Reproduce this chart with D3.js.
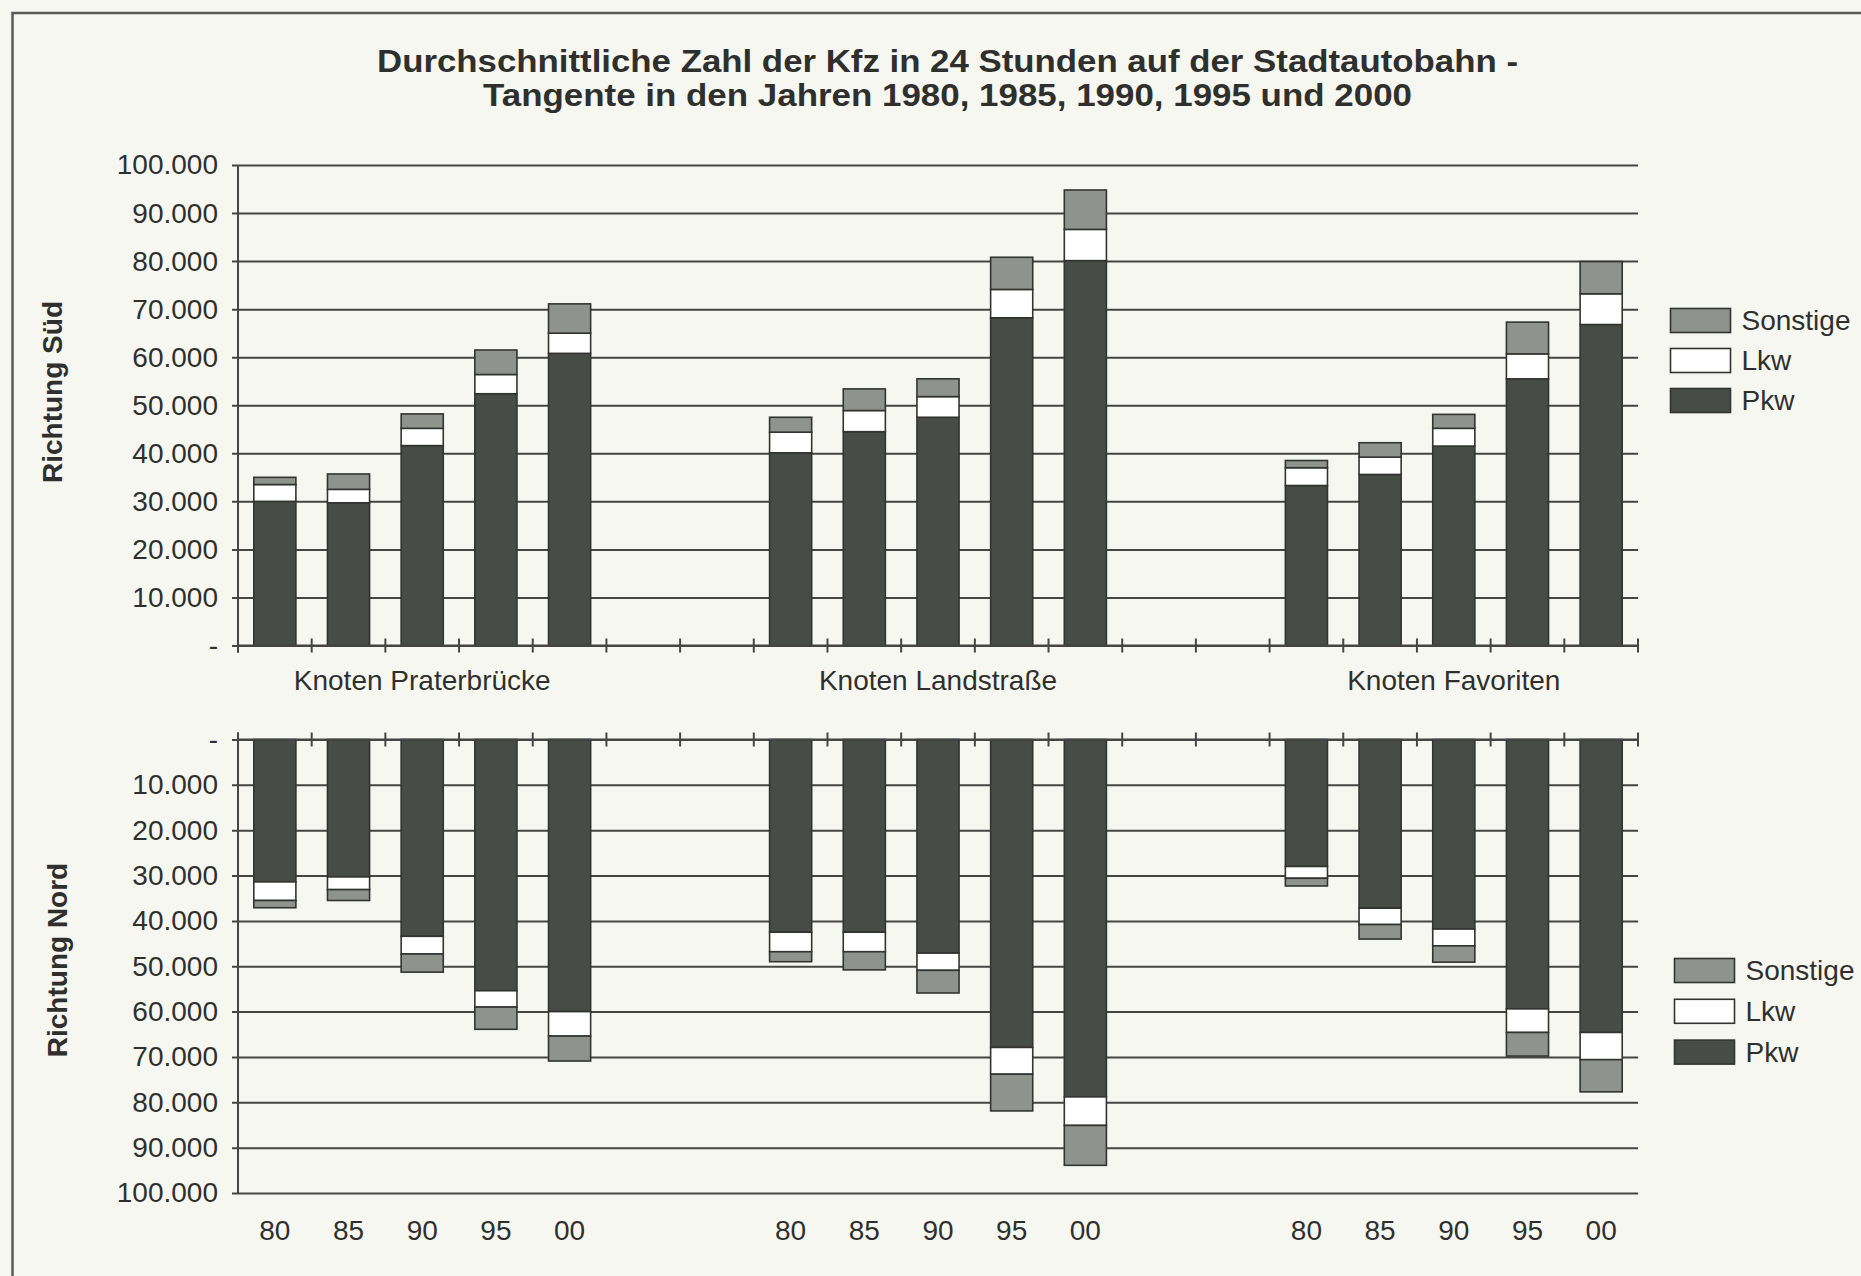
<!DOCTYPE html>
<html>
<head>
<meta charset="utf-8">
<title>Kfz Stadtautobahn Tangente</title>
<style>
  body { margin: 0; background: #f7f7f2; }
  svg text { font-family: "Liberation Sans", Arial, sans-serif; fill: #2f302e; }
</style>
</head>
<body>
<div id="chart"></div>
<script src="https://d3js.org/d3.v7.min.js"></script>
<script>
// Daten (Kfz pro 24 h), Reihenfolge je Knoten: 80, 85, 90, 95, 00
var jahre = ["80", "85", "90", "95", "00"];
var knoten = ["Knoten Praterbrücke", "Knoten Landstraße", "Knoten Favoriten"];
var serien = ["Pkw", "Lkw", "Sonstige"];
var yTicks = [0, 10000, 20000, 30000, 40000, 50000, 60000, 70000, 80000, 90000, 100000];

// Richtung Süd
var sued_pkw   = [30000, 29700, 41600, 52400, 60800,  40100, 44500, 47500, 68200, 80100,  33300, 35600, 41500, 55500, 66800];
var sued_lkw   = [ 3500,  2800,  3600,  4000,  4200,   4300,  4400,  4300,  5900,  6500,   3700,  3600,  3700,  5200,  6400];
var sued_sonst = [ 1500,  3200,  3000,  5100,  6100,   3100,  4500,  3700,  6700,  8200,   1500,  3000,  2900,  6600,  6700];

// Richtung Nord
var nord_pkw   = [31400, 30300, 43400, 55400, 60000,  42500, 42500, 47100, 67900, 78800,  28000, 37200, 41800, 59400, 64600];
var nord_lkw   = [ 4100,  2800,  3900,  3600,  5400,   4300,  4300,  3800,  5900,  6300,   2600,  3600,  3700,  5200,  6000];
var nord_sonst = [ 1600,  2400,  4000,  4900,  5500,   2200,  4000,  5000,  8100,  8800,   1700,  3200,  3600,  5200,  7100];

var farben = { "Pkw": "#474c47", "Lkw": "#ffffff", "Sonstige": "#8f928d" };

var W = 1861, H = 1276;
var svg = d3.select("#chart").append("svg")
  .attr("width", W).attr("height", H);

svg.append("rect").attr("width", W).attr("height", H).attr("fill", "#f7f7f2");

// Rahmen (nur oben und links sichtbar)
svg.append("path")
  .attr("d", "M12.5," + (H + 5) + "V13H" + (W + 5))
  .attr("fill", "none").attr("stroke", "#5a5a58").attr("stroke-width", 2.5);

// Titel
var titel = svg.append("text")
  .attr("text-anchor", "middle")
  .attr("font-weight", "bold")
  .attr("font-size", 31);
titel.append("tspan").attr("x", 947.5).attr("y", 72)
  .attr("textLength", 1141).attr("lengthAdjust", "spacingAndGlyphs")
  .text("Durchschnittliche Zahl der Kfz in 24 Stunden auf der Stadtautobahn -");
titel.append("tspan").attr("x", 947.5).attr("y", 105.5)
  .attr("textLength", 929).attr("lengthAdjust", "spacingAndGlyphs")
  .text("Tangente in den Jahren 1980, 1985, 1990, 1995 und 2000");

// Kategorien: 5 Jahre je Knoten, dazwischen 2 leere Plätze
var slots = [];
knoten.forEach(function (k, ki) {
  jahre.forEach(function (j) { slots.push(k + "|" + j); });
  if (ki < knoten.length - 1) { slots.push("leer" + ki + "a"); slots.push("leer" + ki + "b"); }
});

var xLeft = 238, xRight = 1638;
var x = d3.scaleBand().domain(slots).range([xLeft, xRight]).padding(0);
var barW = x.bandwidth() / 1.75;

var deFormat = d3.formatLocale({ decimal: ",", thousands: ".", grouping: [3], currency: ["", " €"] }).format(",.0f");
function fmt(d) { return d === 0 ? "-" : deFormat(d); }

function baueZeilen(pkw, lkw, sonst) {
  var rows = [];
  var i = 0;
  knoten.forEach(function (k) {
    jahre.forEach(function (j) {
      rows.push({ slot: k + "|" + j, Pkw: pkw[i], Lkw: lkw[i], Sonstige: sonst[i] });
      i++;
    });
  });
  return rows;
}

var stack = d3.stack().keys(serien);

function panel(y, rows, oben) {
  var g = svg.append("g");
  var y0 = y(0);

  // Gitterlinien + Beschriftung
  var achse = d3.axisLeft(y).tickValues(yTicks).tickFormat(fmt)
    .tickSizeInner(-(xRight - xLeft)).tickSizeOuter(0).tickPadding(20);
  var ga = g.append("g").attr("transform", "translate(" + xLeft + ",0)").call(achse);
  ga.select(".domain").remove();
  ga.selectAll(".tick line")
    .attr("x1", -6)
    .attr("stroke", "#454644").attr("stroke-width", 2);
  ga.selectAll(".tick text")
    .attr("font-size", 28).attr("fill", "#333432")
    .attr("font-family", "Liberation Sans, Arial, sans-serif");

  // senkrechte Achse
  g.append("line")
    .attr("x1", xLeft).attr("x2", xLeft)
    .attr("y1", y(100000)).attr("y2", oben ? y0 + 7 : y0 - 7)
    .attr("stroke", "#454644").attr("stroke-width", 2);

  // Balken
  var series = stack(rows);
  g.selectAll("g.serie").data(series).enter().append("g")
    .attr("class", "serie")
    .attr("fill", function (d) { return farben[d.key]; })
    .selectAll("rect").data(function (d) { return d; }).enter().append("rect")
    .attr("x", function (d) { return x(d.data.slot) + (x.bandwidth() - barW) / 2; })
    .attr("width", barW)
    .attr("y", function (d) { return Math.min(y(d[0]), y(d[1])); })
    .attr("height", function (d) { return Math.abs(y(d[1]) - y(d[0])); })
    .attr("stroke", "#333432").attr("stroke-width", 1.6);

  // Kategorieachse mit Teilstrichen an den Grenzen
  g.append("line")
    .attr("x1", xLeft).attr("x2", xRight)
    .attr("y1", y0).attr("y2", y0)
    .attr("stroke", "#454644").attr("stroke-width", 2);
  var grenzen = slots.map(function (s) { return x(s); }).concat([xRight]);
  g.selectAll("line.tk").data(grenzen).enter().append("line")
    .attr("class", "tk")
    .attr("x1", function (d) { return d; }).attr("x2", function (d) { return d; })
    .attr("y1", y0 - 7).attr("y2", y0 + 7)
    .attr("stroke", "#454644").attr("stroke-width", 2);
  return g;
}

var ySued = d3.scaleLinear().domain([0, 100000]).range([645.5, 165]);
var yNord = d3.scaleLinear().domain([0, 100000]).range([739.5, 1193]);

panel(ySued, baueZeilen(sued_pkw, sued_lkw, sued_sonst), true);
panel(yNord, baueZeilen(nord_pkw, nord_lkw, nord_sonst), false);

// Knotennamen zwischen den Diagrammen
svg.selectAll("text.knoten").data(knoten).enter().append("text")
  .attr("class", "knoten")
  .attr("x", function (k) { return (x(k + "|80") + x(k + "|00") + x.bandwidth()) / 2; })
  .attr("y", 690)
  .attr("text-anchor", "middle").attr("font-size", 28)
  .text(function (k) { return k; });

// Jahreszahlen unten
var jahrLabels = [];
knoten.forEach(function (k) { jahre.forEach(function (j) { jahrLabels.push({ slot: k + "|" + j, j: j }); }); });
svg.selectAll("text.jahr").data(jahrLabels).enter().append("text")
  .attr("class", "jahr")
  .attr("x", function (d) { return x(d.slot) + x.bandwidth() / 2; })
  .attr("y", 1239.5)
  .attr("text-anchor", "middle").attr("font-size", 28)
  .text(function (d) { return d.j; });

// Achsentitel
svg.append("text")
  .attr("transform", "translate(52,392) rotate(-90)")
  .attr("text-anchor", "middle").attr("dominant-baseline", "central")
  .attr("font-weight", "bold").attr("font-size", 28)
  .text("Richtung Süd");
svg.append("text")
  .attr("transform", "translate(57,960) rotate(-90)")
  .attr("text-anchor", "middle").attr("dominant-baseline", "central")
  .attr("font-weight", "bold").attr("font-size", 28)
  .text("Richtung Nord");

// Legenden
function legende(lx, ly, step) {
  var order = serien.slice().reverse();
  var lg = svg.append("g").attr("transform", "translate(" + lx + "," + ly + ")");
  var item = lg.selectAll("g").data(order).enter().append("g")
    .attr("transform", function (d, i) { return "translate(0," + (i * step) + ")"; });
  item.append("rect")
    .attr("width", 60).attr("height", 24)
    .attr("fill", function (d) { return farben[d]; })
    .attr("stroke", "#333432").attr("stroke-width", 1.6);
  item.append("text")
    .attr("x", 71).attr("y", 12)
    .attr("dominant-baseline", "central")
    .attr("font-size", 28)
    .text(function (d) { return d; });
}
legende(1670.5, 308.5, 40);
legende(1674.5, 958.5, 40.8);
</script>
</body>
</html>
